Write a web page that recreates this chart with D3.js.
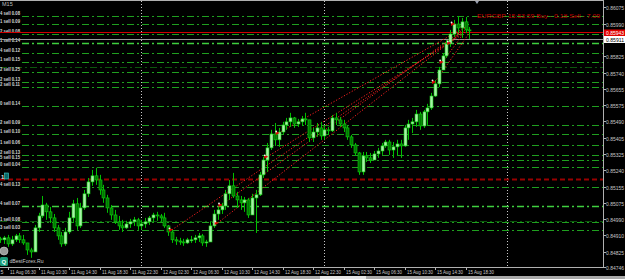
<!DOCTYPE html>
<html>
<head>
<title>EURGBP M15</title>
<script src="https://d3js.org/d3.v7.min.js"></script>
<style>
  body { margin: 0; background: #000; overflow: hidden; }
  svg { display: block; }
  text { font-family: "Liberation Sans", Arial, sans-serif; }
</style>
</head>
<body>
<svg id="chart" width="625" height="279"></svg>
<script>
// 30 minute bars, 11 Aug 05:30 -> 15 Aug 19:00 (weekend skipped)
var highs = [0.84900,0.84905,0.84910,0.84905,0.84915,0.84920,0.84910,0.84869,0.84844,0.84961,
  0.85023,0.85109,0.85074,0.85053,0.85017,0.84961,0.84925,0.84946,0.85028,0.85089,
  0.85099,0.85074,0.85140,0.85201,0.85242,0.85253,0.85217,0.85166,0.85115,0.85063,
  0.85038,0.85007,0.84987,0.84982,0.84992,0.85002,0.84997,0.84987,0.84997,0.85007,
  0.85023,0.85028,0.85017,0.85023,0.84961,0.84936,0.84900,0.84895,0.84890,0.84895,
  0.84905,0.84910,0.84920,0.84915,0.84885,0.84977,0.85038,0.85053,0.85074,0.85140,
  0.85191,0.85227,0.85130,0.85109,0.85104,0.85099,0.85120,0.85140,0.85232,0.85309,
  0.85380,0.85447,0.85482,0.85457,0.85488,0.85508,0.85534,0.85513,0.85503,0.85518,
  0.85534,0.85498,0.85457,0.85482,0.85488,0.85472,0.85462,0.85523,0.85534,0.85513,
  0.85498,0.85467,0.85421,0.85380,0.85334,0.85334,0.85334,0.85329,0.85339,0.85355,
  0.85380,0.85396,0.85396,0.85385,0.85396,0.85396,0.85472,0.85498,0.85508,0.85549,
  0.85539,0.85549,0.85580,0.85636,0.85702,0.85769,0.85840,0.85907,0.85958,0.86009,
  0.86029,0.86019,0.86024,0.85973];
var lows = [0.84869,0.84864,0.84849,0.84854,0.84874,0.84869,0.84859,0.84808,0.84793,0.84823,
  0.84925,0.84997,0.84987,0.84971,0.84925,0.84885,0.84849,0.84854,0.84915,0.84977,
  0.84936,0.84946,0.85038,0.85104,0.85161,0.85166,0.85115,0.85074,0.85023,0.84987,
  0.84966,0.84936,0.84925,0.84941,0.84946,0.84956,0.84936,0.84936,0.84946,0.84961,
  0.84977,0.84982,0.84977,0.84946,0.84905,0.84869,0.84859,0.84859,0.84854,0.84864,
  0.84869,0.84869,0.84874,0.84854,0.84849,0.84874,0.84946,0.84987,0.85017,0.85038,
  0.85089,0.85099,0.85048,0.85038,0.85028,0.84997,0.85012,0.84920,0.85109,0.85201,
  0.85232,0.85344,0.85365,0.85360,0.85426,0.85447,0.85462,0.85457,0.85462,0.85467,
  0.85472,0.85385,0.85385,0.85411,0.85396,0.85396,0.85421,0.85436,0.85472,0.85462,
  0.85436,0.85396,0.85355,0.85314,0.85217,0.85217,0.85283,0.85278,0.85293,0.85304,
  0.85319,0.85355,0.85319,0.85304,0.85314,0.85304,0.85360,0.85396,0.85431,0.85462,
  0.85447,0.85457,0.85472,0.85549,0.85615,0.85666,0.85753,0.85815,0.85871,0.85922,
  0.85942,0.85917,0.85942,0.85912];
var closes = [0.84885,0.84895,0.84864,0.84885,0.84905,0.84885,0.84869,0.84833,0.84823,0.84946,
  0.85007,0.85063,0.85028,0.84997,0.84946,0.84905,0.84864,0.84925,0.84997,0.85069,
  0.84956,0.85048,0.85120,0.85181,0.85212,0.85191,0.85140,0.85099,0.85048,0.85012,
  0.84977,0.84956,0.84946,0.84966,0.84977,0.84987,0.84956,0.84966,0.84977,0.84997,
  0.85012,0.85007,0.84997,0.84956,0.84925,0.84885,0.84879,0.84874,0.84869,0.84885,
  0.84885,0.84895,0.84905,0.84869,0.84874,0.84956,0.85017,0.85038,0.85058,0.85120,
  0.85161,0.85109,0.85089,0.85074,0.85089,0.85012,0.85099,0.85115,0.85217,0.85293,
  0.85355,0.85426,0.85396,0.85436,0.85472,0.85488,0.85508,0.85477,0.85488,0.85503,
  0.85498,0.85406,0.85436,0.85457,0.85416,0.85447,0.85442,0.85508,0.85498,0.85477,
  0.85457,0.85411,0.85370,0.85329,0.85232,0.85314,0.85304,0.85293,0.85324,0.85339,
  0.85365,0.85385,0.85344,0.85360,0.85375,0.85365,0.85457,0.85477,0.85488,0.85528,
  0.85467,0.85539,0.85559,0.85620,0.85682,0.85753,0.85825,0.85886,0.85937,0.85988,
  0.85968,0.85999,0.85958,0.85953];
var firstOpen = 0.84890;

var timeTickBars = [2, 10, 18, 26, 34, 42, 50, 58, 66, 74, 82, 90, 98, 106, 114, 122];
var timeTickLabels = ["11 Aug 06:30", "11 Aug 10:30", "11 Aug 14:30", "11 Aug 18:30",
  "11 Aug 22:30", "12 Aug 02:30", "12 Aug 06:30", "12 Aug 10:30", "12 Aug 14:30", "12 Aug 18:30",
  "12 Aug 22:30", "15 Aug 02:30", "15 Aug 06:30", "15 Aug 10:30", "15 Aug 14:30", "15 Aug 18:30"];
var cutTimeLabel = "5";
var daySeparatorBars = [37, 85, 133];

var priceTicks = [0.86075, 0.85990, 0.85825, 0.85740, 0.85655, 0.85575, 0.85490, 0.85405,
  0.85325, 0.85240, 0.85155, 0.85075, 0.84990, 0.84910, 0.84825, 0.84746];
var bidPrice = 0.85943;
var askPrice = 0.85911;

// grid order levels (tone: 0 normal, 1 bright, 2 dark)
var levelPrices = [0.86029, 0.85988, 0.85937, 0.85891, 0.85840, 0.85794, 0.85769, 0.85743, 0.85692, 0.85666,
  0.85569, 0.85472, 0.85426, 0.85370, 0.85319, 0.85293, 0.85258, 0.85155, 0.85058, 0.84982, 0.84977, 0.84936];
var levelLabels = ["4 sell 0.08", "1 sell 0.09", "2 sell 0.08", "1 sell 0.14", "4 sell 0.12", "1 sell 0.15", "",
  "2 sell 0.25", "2 sell 0.13", "2 sell 0.11", "0 sell 0.14", "2 sell 0.09", "1 sell 0.10", "1 sell 0.06",
  "2 sell 0.13", "5 sell 0.15", "0 sell 0.04", "4 sell 0.13", "4 sell 0.07", "", "1 sell 0.08", "3 sell 0.03"];
var levelTone = [0, 0, 0, 1, 0, 0, 2, 0, 0, 0, 0, 0, 0, 0, 0, 0, 0, 0, 1, 2, 0, 0];
var stopPrice = 0.85196;

// history trades
var tradeOpenBars = [45, 57, 58, 70, 73, 114, 116, 118, 119];
var tradeOpenPrices = [0.84936, 0.84971, 0.85063, 0.85309, 0.85431, 0.85692, 0.85794, 0.85891, 0.85988];
var tradeCloseBars = [121, 122, 122, 121, 122, 123, 122, 121, 122];
var tradeClosePrices = [0.85942, 0.85958, 0.85968, 0.85932, 0.85973, 0.85942, 0.85953, 0.85958, 0.85963];

var headerText = "EURGBP 15:53:59 Buy - 0.18 Sell - 7.09";

var W = 625, H = 279;
var plotRight = 603, plotBottom = 267;

var svg = d3.select("#chart");
svg.append("rect").attr("width", W).attr("height", H).attr("fill", "#000");

var x = d3.scaleLinear().domain([0, 123]).range([0.375, 0.375 + 123 * 3.8125]);
var y = d3.scaleLinear().domain([0.84746, 0.86075]).range([267, 7]);
var py = function(p) { return Math.round(y(p)) + 0.5; };

svg.append("clipPath").attr("id", "plot")
  .append("rect").attr("x", 0).attr("y", 1).attr("width", plotRight).attr("height", plotBottom - 1);

var g = svg.append("g").attr("clip-path", "url(#plot)");

// day separators
g.selectAll("line.sep").data(daySeparatorBars).enter()
  .append("line").attr("class", "sep")
  .attr("x1", function(d) { return Math.round(x(d)) + 0.5; })
  .attr("x2", function(d) { return Math.round(x(d)) + 0.5; })
  .attr("y1", 1).attr("y2", plotBottom)
  .attr("stroke", "#c8c8c8").attr("stroke-width", 1).attr("stroke-dasharray", "1,2");

// order levels
var toneColor = ["#1f9f1f", "#3fd03f", "#0c560c"];
g.selectAll("line.level").data(levelPrices).enter()
  .append("line").attr("class", "level")
  .attr("x1", function(d, i) { return levelLabels[i] ? 22 : 0; }).attr("x2", plotRight)
  .attr("y1", py).attr("y2", py)
  .attr("stroke", function(d, i) { return toneColor[levelTone[i]]; })
  .attr("stroke-width", function(d, i) { return levelTone[i] == 1 ? 1.3 : 1; })
  .attr("stroke-dasharray", "7,3,2,3");

g.append("line")
  .attr("x1", 0).attr("x2", plotRight).attr("y1", py(stopPrice)).attr("y2", py(stopPrice))
  .attr("stroke", "#980000").attr("stroke-width", 2).attr("stroke-dasharray", "5,3");

g.selectAll("text.level").data(levelPrices).enter()
  .append("text").attr("class", "level")
  .attr("x", 0).attr("y", function(d) { return py(d) - 1.5; })
  .attr("font-size", 5.2).attr("font-weight", "bold").attr("fill", "#d8d8d8")
  .attr("textLength", 20).attr("lengthAdjust", "spacingAndGlyphs")
  .text(function(d, i) { return levelLabels[i]; });

g.append("text").attr("x", 1).attr("y", py(stopPrice) - 1)
  .attr("font-size", 6).attr("font-weight", "bold").attr("fill", "#e0e0e0").text("1");
g.append("rect").attr("x", 4.5).attr("y", py(stopPrice) - 6.5).attr("width", 4).attr("height", 6)
  .attr("fill", "#0a6a6a").attr("stroke", "#40d0d0").attr("stroke-width", 0.6);

// bid / ask
g.append("line").attr("x1", 0).attr("x2", plotRight).attr("y1", py(bidPrice) - 1).attr("y2", py(bidPrice) - 1)
  .attr("stroke", "#d00000");
g.append("line").attr("x1", 0).attr("x2", plotRight).attr("y1", py(askPrice)).attr("y2", py(askPrice))
  .attr("stroke", "#9a9a9a");

// trade lines
var trades = d3.range(tradeOpenBars.length);
g.selectAll("line.trade").data(trades).enter()
  .append("line").attr("class", "trade")
  .attr("x1", function(i) { return x(tradeOpenBars[i]); })
  .attr("y1", function(i) { return y(tradeOpenPrices[i]); })
  .attr("x2", function(i) { return x(tradeCloseBars[i]); })
  .attr("y2", function(i) { return y(tradeClosePrices[i]); })
  .attr("stroke", "#ff2020").attr("stroke-width", 1).attr("stroke-dasharray", "1.2,1.8");

// candles
var bars = d3.range(closes.length);
var openOf = function(i) { return i == 0 ? firstOpen : closes[i - 1]; };

g.selectAll("line.wick").data(bars).enter()
  .append("line").attr("class", "wick")
  .attr("x1", function(i) { return Math.round(x(i)) + 0.5; })
  .attr("x2", function(i) { return Math.round(x(i)) + 0.5; })
  .attr("y1", function(i) { return y(Math.max(highs[i], openOf(i), closes[i])); })
  .attr("y2", function(i) { return y(Math.min(lows[i], openOf(i), closes[i])); })
  .attr("stroke", "#00c000").attr("stroke-width", 1);

g.selectAll("rect.body").data(bars).enter()
  .append("rect").attr("class", "body")
  .attr("x", function(i) { return Math.round(x(i)) - 1; })
  .attr("width", 3)
  .attr("y", function(i) { return y(Math.max(openOf(i), closes[i])); })
  .attr("height", function(i) { return Math.max(1, Math.abs(y(openOf(i)) - y(closes[i]))); })
  .attr("fill", function(i) { return closes[i] >= openOf(i) ? "#a8f0a8" : "#007a00"; })
  .attr("stroke", "#10d010").attr("stroke-width", 0.6);

// trade markers
var marker = g.selectAll("g.mark").data(trades).enter()
  .append("g").attr("class", "mark")
  .attr("transform", function(i) { return "translate(" + x(tradeOpenBars[i]) + "," + y(tradeOpenPrices[i]) + ")"; });
marker.append("path").attr("d", "M-3,-2L1,0L-3,2Z").attr("fill", "#e00000");
marker.append("circle").attr("cx", -2.5).attr("cy", -1.5).attr("r", 0.9).attr("fill", "#f0f0f0");

// header
svg.append("text").attr("x", 2).attr("y", 6).attr("font-size", 5.5).attr("fill", "#bdbdbd").text("M15");
svg.append("text").attr("x", 477).attr("y", 17.5).attr("font-size", 6.2).attr("fill", "#c80000")
  .attr("textLength", 123).attr("lengthAdjust", "spacingAndGlyphs").text(headerText);
svg.append("path").attr("d", "M475,1L479,1L477,4Z").attr("fill", "#9aa0b0");

// logo
var logo = svg.append("g");
logo.append("circle").attr("cx", 4).attr("cy", 251).attr("r", 4).attr("fill", "#9a9a9a").attr("stroke", "#d0d0d0").attr("stroke-width", 0.6);
logo.append("rect").attr("x", 0).attr("y", 257).attr("width", 8).attr("height", 9).attr("rx", 1.5).attr("fill", "#1d9e7c");
logo.append("text").attr("x", 1.6).attr("y", 264).attr("font-size", 6).attr("font-weight", "bold").attr("fill", "#e8fff8").text("Q");
logo.append("text").attr("x", 9.5).attr("y", 263).attr("font-size", 5.6).attr("fill", "#c8c8c8")
  .attr("textLength", 34).attr("lengthAdjust", "spacingAndGlyphs").text("dBestForex.Ru");

// frame
svg.append("line").attr("x1", 0).attr("x2", plotRight).attr("y1", 0.5).attr("y2", 0.5).attr("stroke", "#b0b0b0");
svg.append("line").attr("x1", plotRight + 0.5).attr("x2", plotRight + 0.5).attr("y1", 0).attr("y2", plotBottom + 0.5).attr("stroke", "#b0b0b0");
svg.append("line").attr("x1", 0).attr("x2", plotRight + 1).attr("y1", plotBottom + 0.5).attr("y2", plotBottom + 0.5).attr("stroke", "#b0b0b0");

// price axis
var pa = svg.append("g");
pa.selectAll("line").data(priceTicks).enter().append("line")
  .attr("x1", plotRight).attr("x2", plotRight + 3)
  .attr("y1", py).attr("y2", py).attr("stroke", "#b0b0b0");
pa.selectAll("text").data(priceTicks).enter().append("text")
  .attr("x", 606).attr("y", function(d) { return py(d) + 2; })
  .attr("font-size", 5.3).attr("fill", "#c8c8c8")
  .attr("textLength", 18).attr("lengthAdjust", "spacingAndGlyphs")
  .text(function(d) { return d3.format(".5f")(d); });

pa.append("rect").attr("x", 604).attr("y", py(bidPrice) - 4).attr("width", 21).attr("height", 7).attr("fill", "#e00000");
pa.append("text").attr("x", 606).attr("y", py(bidPrice) + 1.5).attr("font-size", 5.3).attr("fill", "#fff")
  .attr("textLength", 18).attr("lengthAdjust", "spacingAndGlyphs").text(d3.format(".5f")(bidPrice));
pa.append("rect").attr("x", 604).attr("y", py(askPrice) - 3.5).attr("width", 21).attr("height", 7).attr("fill", "#fff");
pa.append("text").attr("x", 606).attr("y", py(askPrice) + 2).attr("font-size", 5.3).attr("fill", "#000")
  .attr("textLength", 18).attr("lengthAdjust", "spacingAndGlyphs").text(d3.format(".5f")(askPrice));

// time axis
var ta = svg.append("g");
ta.selectAll("line").data(timeTickBars).enter().append("line")
  .attr("x1", function(d) { return Math.round(x(d)) + 0.5; })
  .attr("x2", function(d) { return Math.round(x(d)) + 0.5; })
  .attr("y1", plotBottom).attr("y2", plotBottom + 3).attr("stroke", "#b0b0b0");
ta.selectAll("text").data(timeTickBars).enter().append("text")
  .attr("x", function(d) { return Math.round(x(d)) + 2; }).attr("y", 274)
  .attr("font-size", 5.3).attr("fill", "#c8c8c8")
  .attr("textLength", 26).attr("lengthAdjust", "spacingAndGlyphs")
  .text(function(d, i) { return timeTickLabels[i]; });
ta.append("text").attr("x", 0.5).attr("y", 274).attr("font-size", 5.3).attr("fill", "#c8c8c8").text(cutTimeLabel);

// bottom strip
svg.append("rect").attr("x", 0).attr("y", 276).attr("width", W).attr("height", 3).attr("fill", "#a8a8a8");
svg.append("rect").attr("x", 320).attr("y", 276).attr("width", 46).attr("height", 3).attr("fill", "#e4e4e4");
</script>
</body>
</html>
